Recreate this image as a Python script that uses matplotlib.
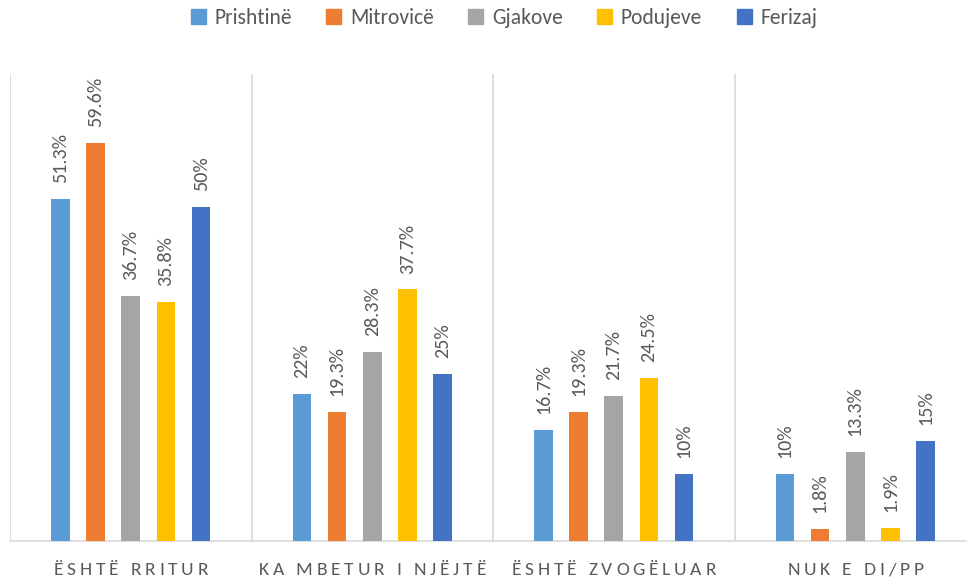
import matplotlib
matplotlib.use("Agg")
import matplotlib.pyplot as plt
from matplotlib import font_manager
from matplotlib.font_manager import FontProperties
from matplotlib.patches import Rectangle
import numpy as np

categories = ["ËSHTË RRITUR", "KA MBETUR I NJËJTË", "ËSHTË ZVOGËLUAR", "NUK E DI/PP"]
series_names = ["Prishtinë", "Mitrovicë", "Gjakove", "Podujeve", "Ferizaj"]
prishtine = [51.3, 22.0, 16.7, 10.0]
mitrovice = [59.6, 19.3, 19.3, 1.8]
gjakove = [36.7, 28.3, 21.7, 13.3]
podujeve = [35.8, 37.7, 24.5, 1.9]
ferizaj = [50.0, 25.0, 10.0, 15.0]
label_texts = [
    ["51.3%", "22%", "16.7%", "10%"],
    ["59.6%", "19.3%", "19.3%", "1.8%"],
    ["36.7%", "28.3%", "21.7%", "13.3%"],
    ["35.8%", "37.7%", "24.5%", "1.9%"],
    ["50%", "25%", "10%", "15%"],
]
series_values = [prishtine, mitrovice, gjakove, podujeve, ferizaj]
colors = ["#5B9BD5", "#ED7D31", "#A5A5A5", "#FFC000", "#4472C4"]

available = {f.name for f in font_manager.fontManager.ttflist}
family = next(f for f in ["Carlito", "Lato", "DejaVu Sans"] if f in available)
plt.rcParams["font.family"] = [family, "DejaVu Sans"]

W, H = 967, 580
fig = plt.figure(figsize=(W / 100, H / 100), dpi=100)
left_px, right_px = 10, 976
top_px, base_px = 74, 541
ax = fig.add_axes([left_px / W, 1 - base_px / H, (right_px - left_px) / W, (base_px - top_px) / H])

step = 0.1457
width = 0.077
n = len(series_names)
x = np.arange(len(categories))
label_color = "#595959"
for j, (name, vals, col) in enumerate(zip(series_names, series_values, colors)):
    pos = x + (j - (n - 1) / 2) * step
    ax.bar(pos, vals, width=width, color=col, label=name, zorder=3)
    for p, v, t in zip(pos, vals, label_texts[j]):
        ax.annotate(t, (p, v), xytext=(0, 11.5), textcoords="offset points",
                    rotation=90, ha="center", va="bottom", fontsize=14.5,
                    color=label_color)

ax.set_xlim(-0.5, len(categories) - 0.5)
ax.set_ylim(0, 70)
ax.set_yticks([])
ax.set_xticks([])
for s in ["top", "right", "left"]:
    ax.spines[s].set_visible(False)
ax.spines["bottom"].set_color("#D9D9D9")
ax.spines["bottom"].set_linewidth(1.2)
for b in np.arange(len(categories) + 1) - 0.5:
    ax.axvline(b, color="#D9D9D9", linewidth=1.2, zorder=1)

# category labels with letter spacing
fig.canvas.draw()
renderer = fig.canvas.get_renderer()
cat_fp = FontProperties(family=[family, "DejaVu Sans"], size=14)
tracking = 3.8  # px between letters


def text_width(s):
    return renderer.get_text_width_height_descent(s, cat_fp, ismath=False)[0]


space_w = text_width("a a") - text_width("aa")
for i, cat in enumerate(categories):
    widths = [space_w if c == " " else text_width(c) for c in cat]
    total = sum(widths) + tracking * (len(cat) - 1)
    cx = ax.transData.transform((i, 0))[0]
    xpos = cx - total / 2
    for c, w in zip(cat, widths):
        fig.text(xpos / W, 1 - 570 / H, c, fontproperties=cat_fp, color=label_color,
                 ha="left", va="center")
        xpos += w + tracking

handles = [Rectangle((0, 0), 1, 1, color=c) for c in colors]
fig.legend(handles, series_names, loc="center", bbox_to_anchor=(504 / W, 1 - 18 / H),
           ncol=5, frameon=False, fontsize=15.5, handlelength=0.7, handleheight=0.7,
           handletextpad=0.4, columnspacing=1.6, labelcolor=label_color)

fig.savefig("out.png", dpi=100)
